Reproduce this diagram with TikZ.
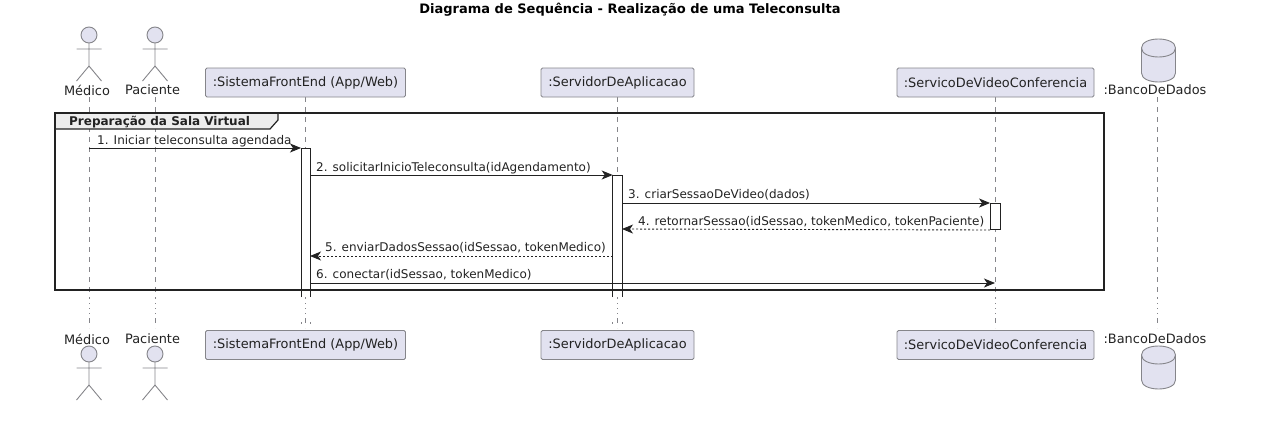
\documentclass[tikz,border=0pt]{standalone}
\usepackage{fontspec}
\setmainfont{DejaVu Sans}
\usetikzlibrary{arrows.meta,calc,positioning,shapes.geometric}
\definecolor{partfill}{HTML}{E2E2F0}
\definecolor{partline}{HTML}{85858A}
\definecolor{ink}{HTML}{222222}
\tikzset{
  part/.style={draw=partline,fill=partfill,rounded corners=1.5pt,line width=0.9pt,text=ink,font=\fontsize{12.9}{14}\selectfont,minimum height=29,inner sep=0pt},
  actorlabel/.style={text=ink,font=\fontsize{12.9}{14}\selectfont,inner sep=0pt},
  lifeline/.style={draw=partline,line width=0.8pt,dash pattern=on 5pt off 5pt},
  lifedots/.style={draw=partline,line width=0.9pt,dash pattern=on 1pt off 4pt},
  activ/.style={draw=ink,fill=white,line width=1pt,minimum width=9.5,inner sep=0pt,anchor=north},
  msg/.style={draw=ink,line width=0.9pt,-{Stealth[length=11pt,width=9pt,inset=3pt]}},
  msgback/.style={msg,dash pattern=on 2pt off 2pt},
  msgtext/.style={text=ink,font=\fontsize{12}{14}\selectfont,inner sep=0pt,anchor=base west},
}
\newcommand{\actorfig}[2]{% x, head y
  \draw[draw=partline,line width=0.9pt] (#1,#2+8)--(#1,#2+31) (#1-12.5,#2+14)--(#1+12.5,#2+14)
    (#1-12.5,#2+46)--(#1,#2+31)--(#1+12.5,#2+46);
  \fill[partfill,draw=partline,line width=0.9pt] (#1,#2) circle (8);
}
\newcommand{\dbfig}[2]{% x, top y
  \fill[partfill,draw=partline,line width=0.9pt] (#1-17,#2+9) -- (#1-17,#2+34)
    .. controls (#1-17,#2+46) and (#1+17,#2+46) .. (#1+17,#2+34) -- (#1+17,#2+9)
    .. controls (#1+17,#2-3) and (#1-17,#2-3) .. (#1-17,#2+9) -- cycle;
  \draw[draw=partline,line width=0.9pt] (#1-17,#2+9) .. controls (#1-17,#2+21) and (#1+17,#2+21) .. (#1+17,#2+9);
}
\begin{document}
\begin{tikzpicture}[x=1pt,y=-1pt]
\useasboundingbox (0,0) rectangle (1280,434);
\node[font=\fontsize{13}{15}\selectfont\bfseries,text=black,inner sep=0pt] (title) at (630,9.5) {Diagrama de Sequência - Realização de uma Teleconsulta};

% lifelines
\foreach \nm/\x in {medico/89,paciente/155,sistema/305.5,servidor/617.5,servico/995,banco/1157} {
\coordinate (\nm-top) at (\x,97);
\coordinate (\nm-mid) at (\x,298);
\coordinate (\nm-low) at (\x,318);
\coordinate (\nm-end) at (\x,328);
\draw[lifeline] (\nm-top) -- (\nm-mid);
\draw[lifedots] (\nm-mid) -- (\nm-low);
\draw[lifeline] (\nm-low) -- (\nm-end);
}

% activations
\fill[white] (301,148) rectangle (310,297);
\fill[white] (612.7,175) rectangle (622,297);

% frame
\coordinate (framenw) at (55,113);
\coordinate (framese) at (1104,290);
\draw[draw=ink,fill=none,line width=2pt] (framenw) rectangle (framese);
\fill[fill=black!7,draw=ink,line width=1.2pt] (55,113) -- (278,113) -- (278,120) -- (270,129) -- (55,129) -- cycle;
\draw[draw=ink,line width=2pt] (55,113) -- (278,113);
\draw[draw=ink,line width=2pt] (55,113) -- (55,129);
\node[font=\fontsize{12}{14}\selectfont\bfseries,text=ink,inner sep=0pt,anchor=base west] (frametitle) at (69,125) {Preparação da Sala Virtual};

\draw[draw=ink,line width=1pt] (301,297) -- (301,148) -- (310,148) -- (310,297);
\draw[draw=ink,line width=1pt] (612.7,297) -- (612.7,175) -- (622,175) -- (622,297);
\node[activ,minimum height=26] (actservico) at (995.3,203) {};
\foreach \x in {301,310,612.7,622} {
\draw[draw=partline,line width=1pt] (\x,322) -- (\x,323.5); }

% participants
\foreach \nm/\x/\w/\lbl in {sistema/305.5/200/{:SistemaFrontEnd (App/Web)},servidor/617.5/153/{:ServidorDeAplicacao},servico/995.5/197/{:ServicoDeVideoConferencia}} {
\node[part,minimum width=\w] (\nm-head) at (\x,82.5) {\lbl};
\node[part,minimum width=\w] (\nm-foot) at (\x,345) {\lbl};
}
\foreach \nm/\x/\lx/\lbl in {medico/89/87/Médico,paciente/155/152.5/Paciente} {
\actorfig{\x}{35}
\node[actorlabel] (\nm-head) at (\lx,90) {\lbl};
\node[actorlabel] (\nm-foot) at (\lx,339) {\lbl};
\actorfig{\x}{354}
}
\dbfig{1158.5}{39}
\node[actorlabel] (banco-head) at (1155,90) {:BancoDeDados};
\node[actorlabel] (banco-foot) at (1155,339) {:BancoDeDados};
\dbfig{1158.5}{346}

% messages
\coordinate (m1a) at (medico-top |- 0,148);
\coordinate (m1b) at (301,148);
\coordinate (m2a) at (310,175);
\coordinate (m2b) at (612.7,175);
\coordinate (m3a) at (622,203);
\coordinate (m3b) at (actservico.north west);
\coordinate (m4a) at (actservico.south west);
\coordinate (m4b) at (622,229);
\coordinate (m5a) at (612.7,256);
\coordinate (m5b) at (310,256);
\coordinate (m6a) at (310,283);
\coordinate (m6b) at (servico-top |- 0,283);
\draw[msg] (m1a) -- (m1b);
\draw[msg] (m2a) -- (m2b);
\draw[msg] (m3a) -- (m3b);
\draw[msgback] (m4a) -- (m4b);
\draw[msgback] (m5a) -- (m5b);
\draw[msg] (m6a) -- (m6b);
\node[msgtext] (t1) at (97,144) {1. Iniciar teleconsulta agendada};
\node[msgtext] (t2) at (316,171) {2. solicitarInicioTeleconsulta(idAgendamento)};
\node[msgtext] (t3) at (628,198) {3. criarSessaoDeVideo(dados)};
\node[msgtext] (t4) at (638,225) {4. retornarSessao(idSessao, tokenMedico, tokenPaciente)};
\node[msgtext] (t5) at (325,251) {5. enviarDadosSessao(idSessao, tokenMedico)};
\node[msgtext] (t6) at (316,278) {6. conectar(idSessao, tokenMedico)};
\end{tikzpicture}
\end{document}
